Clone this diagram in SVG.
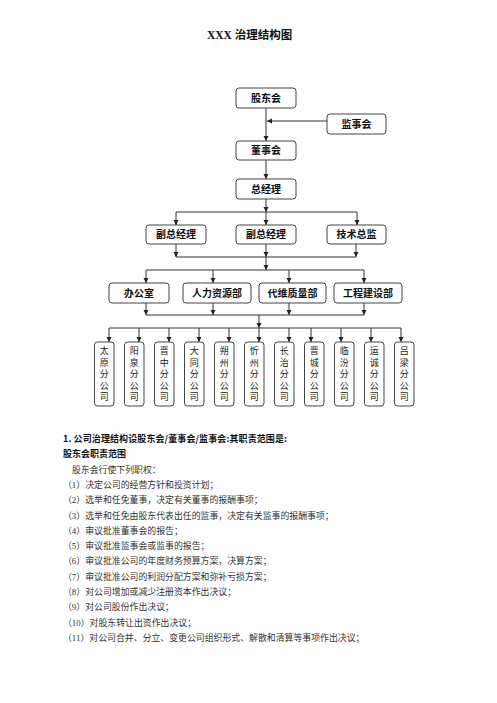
<svg xmlns="http://www.w3.org/2000/svg" width="497" height="703" viewBox="0 0 497 703">
<defs>
<marker id="ah" markerUnits="userSpaceOnUse" markerWidth="6" markerHeight="6" refX="5" refY="2.5" orient="auto">
<path d="M0,0 L5,2.5 L0,5 z" fill="#222"/>
</marker>
<style>
.box{fill:#fff;stroke:#444;stroke-width:1}
.bt{font-family:"Noto Sans CJK SC","Noto Sans",sans-serif;font-weight:bold;font-size:10px;fill:#111;text-anchor:middle}
.vt{font-family:"Noto Sans CJK SC",sans-serif;font-size:9px;fill:#222;text-anchor:middle}
.ln{fill:none;stroke:#333;stroke-width:1}
.ar{fill:none;stroke:#333;stroke-width:1;marker-end:url(#ah)}
.body{font-family:"Liberation Serif","Noto Sans CJK SC",serif;font-size:8.9px;fill:#333}
.hd{font-family:"Noto Sans CJK SC",sans-serif;font-size:9px;font-weight:bold;fill:#111}
</style>
</defs>
<rect width="497" height="703" fill="#fff"/>
<text x="207" y="39" font-family="'Liberation Serif','Noto Sans CJK SC',serif" font-weight="bold" font-size="11.5" fill="#111">XXX 治理结构图</text>

<g id="connectors">
<path class="ar" d="M266,108 V141"/>
<path class="ar" d="M327,121 H267"/>
<path class="ar" d="M266,160 V179"/>
<path class="ar" d="M266,199 V212"/>
<path class="ln" d="M176,212 H357"/>
<path class="ar" d="M176,212 V225"/>
<path class="ar" d="M266,212 V225"/>
<path class="ar" d="M357,212 V225"/>
<path class="ar" d="M176,244 V257"/>
<path class="ar" d="M266,244 V257"/>
<path class="ar" d="M356,244 V257"/>
<path class="ln" d="M176,257 H356"/>
<path class="ar" d="M266,257 V270"/>
<path class="ln" d="M146,270 H364"/>
<path class="ar" d="M146,270 V283"/>
<path class="ar" d="M213,270 V283"/>
<path class="ar" d="M289,270 V283"/>
<path class="ar" d="M364,270 V283"/>
<path class="ar" d="M146,303 V315"/>
<path class="ar" d="M213,303 V315"/>
<path class="ar" d="M289,303 V315"/>
<path class="ar" d="M364,303 V315"/>
<path class="ln" d="M146,315 H364"/>
<path class="ar" d="M259,315 V328"/>
<path class="ln" d="M109,328 H401"/>
<path class="ar" d="M109,328 V342"/>
<path class="ar" d="M139,328 V342"/>
<path class="ar" d="M169,328 V342"/>
<path class="ar" d="M199,328 V342"/>
<path class="ar" d="M229,328 V342"/>
<path class="ar" d="M259,328 V342"/>
<path class="ar" d="M289,328 V342"/>
<path class="ar" d="M311,328 V342"/>
<path class="ar" d="M341,328 V342"/>
<path class="ar" d="M371,328 V342"/>
<path class="ar" d="M401,328 V342"/>
</g>

<g id="n-gudonghui"><rect class="box" x="236" y="88" width="60" height="20" rx="3"/><text class="bt" x="266" y="101.6">股东会</text></g>
<g id="n-jianshihui"><rect class="box" x="327" y="114" width="59" height="20" rx="3"/><text class="bt" x="356.5" y="127.6">监事会</text></g>
<g id="n-dongshihui"><rect class="box" x="236" y="141" width="60" height="19" rx="3"/><text class="bt" x="266" y="154.1">董事会</text></g>
<g id="n-zongjingli"><rect class="box" x="236" y="179" width="60" height="20" rx="3"/><text class="bt" x="266" y="192.6">总经理</text></g>
<g id="n-fuzong1"><rect class="box" x="146" y="225" width="60" height="19" rx="3"/><text class="bt" x="176" y="238.1">副总经理</text></g>
<g id="n-fuzong2"><rect class="box" x="236" y="225" width="60" height="19" rx="3"/><text class="bt" x="266" y="238.1">副总经理</text></g>
<g id="n-jishu"><rect class="box" x="327" y="225" width="59" height="19" rx="3"/><text class="bt" x="356.5" y="238.1">技术总监</text></g>
<g id="n-bangongshi"><rect class="box" x="109" y="283" width="60" height="20" rx="3"/><text class="bt" x="139" y="296.6">办公室</text></g>
<g id="n-renli"><rect class="box" x="183" y="283" width="68" height="20" rx="3"/><text class="bt" x="217" y="296.6">人力资源部</text></g>
<g id="n-daiwei"><rect class="box" x="259" y="283" width="67" height="20" rx="3"/><text class="bt" x="292.5" y="296.6">代维质量部</text></g>
<g id="n-gongcheng"><rect class="box" x="334" y="283" width="68" height="20" rx="3"/><text class="bt" x="368" y="296.6">工程建设部</text></g>

<g id="n-taiyuan"><rect class="box" x="94.5" y="342" width="19.5" height="64" rx="3"/><text class="vt" x="104.3"><tspan x="104.3" y="354.4">太</tspan><tspan x="104.3" y="365.9">原</tspan><tspan x="104.3" y="377.4">分</tspan><tspan x="104.3" y="388.9">公</tspan><tspan x="104.3" y="400.4">司</tspan></text></g>
<g id="n-yangquan"><rect class="box" x="124.5" y="342" width="19.5" height="64" rx="3"/><text class="vt" x="134.3"><tspan x="134.3" y="354.4">阳</tspan><tspan x="134.3" y="365.9">泉</tspan><tspan x="134.3" y="377.4">分</tspan><tspan x="134.3" y="388.9">公</tspan><tspan x="134.3" y="400.4">司</tspan></text></g>
<g id="n-jinzhong"><rect class="box" x="154.5" y="342" width="19.5" height="64" rx="3"/><text class="vt" x="164.3"><tspan x="164.3" y="354.4">晋</tspan><tspan x="164.3" y="365.9">中</tspan><tspan x="164.3" y="377.4">分</tspan><tspan x="164.3" y="388.9">公</tspan><tspan x="164.3" y="400.4">司</tspan></text></g>
<g id="n-datong"><rect class="box" x="184.5" y="342" width="19.5" height="64" rx="3"/><text class="vt" x="194.3"><tspan x="194.3" y="354.4">大</tspan><tspan x="194.3" y="365.9">同</tspan><tspan x="194.3" y="377.4">分</tspan><tspan x="194.3" y="388.9">公</tspan><tspan x="194.3" y="400.4">司</tspan></text></g>
<g id="n-shuozhou"><rect class="box" x="214.5" y="342" width="19.5" height="64" rx="3"/><text class="vt" x="224.3"><tspan x="224.3" y="354.4">朔</tspan><tspan x="224.3" y="365.9">州</tspan><tspan x="224.3" y="377.4">分</tspan><tspan x="224.3" y="388.9">公</tspan><tspan x="224.3" y="400.4">司</tspan></text></g>
<g id="n-xinzhou"><rect class="box" x="244.5" y="342" width="19.5" height="64" rx="3"/><text class="vt" x="254.3"><tspan x="254.3" y="354.4">忻</tspan><tspan x="254.3" y="365.9">州</tspan><tspan x="254.3" y="377.4">分</tspan><tspan x="254.3" y="388.9">公</tspan><tspan x="254.3" y="400.4">司</tspan></text></g>
<g id="n-changzhi"><rect class="box" x="274.5" y="342" width="19.5" height="64" rx="3"/><text class="vt" x="284.3"><tspan x="284.3" y="354.4">长</tspan><tspan x="284.3" y="365.9">治</tspan><tspan x="284.3" y="377.4">分</tspan><tspan x="284.3" y="388.9">公</tspan><tspan x="284.3" y="400.4">司</tspan></text></g>
<g id="n-jincheng"><rect class="box" x="304.5" y="342" width="19.5" height="64" rx="3"/><text class="vt" x="314.3"><tspan x="314.3" y="354.4">晋</tspan><tspan x="314.3" y="365.9">城</tspan><tspan x="314.3" y="377.4">分</tspan><tspan x="314.3" y="388.9">公</tspan><tspan x="314.3" y="400.4">司</tspan></text></g>
<g id="n-linfen"><rect class="box" x="334.5" y="342" width="19.5" height="64" rx="3"/><text class="vt" x="344.3"><tspan x="344.3" y="354.4">临</tspan><tspan x="344.3" y="365.9">汾</tspan><tspan x="344.3" y="377.4">分</tspan><tspan x="344.3" y="388.9">公</tspan><tspan x="344.3" y="400.4">司</tspan></text></g>
<g id="n-yuncheng"><rect class="box" x="364.5" y="342" width="19.5" height="64" rx="3"/><text class="vt" x="374.3"><tspan x="374.3" y="354.4">运</tspan><tspan x="374.3" y="365.9">诚</tspan><tspan x="374.3" y="377.4">分</tspan><tspan x="374.3" y="388.9">公</tspan><tspan x="374.3" y="400.4">司</tspan></text></g>
<g id="n-lvliang"><rect class="box" x="394.5" y="342" width="19.5" height="64" rx="3"/><text class="vt" x="404.3"><tspan x="404.3" y="354.4">吕</tspan><tspan x="404.3" y="365.9">梁</tspan><tspan x="404.3" y="377.4">分</tspan><tspan x="404.3" y="388.9">公</tspan><tspan x="404.3" y="400.4">司</tspan></text></g>

<g id="text-body">
<text class="hd" x="63" y="442" textLength="224" lengthAdjust="spacing">1. 公司治理结构设股东会/董事会/监事会:其职责范围是:</text>
<text class="hd" x="63" y="457.3">股东会职责范围</text>
<text class="body" x="72" y="472.6">股东会行使下列职权：</text>
<text class="body" x="63" y="487.9">（1）决定公司的经营方针和投资计划；</text>
<text class="body" x="63" y="503.2">（2）选举和任免董事，决定有关董事的报酬事项；</text>
<text class="body" x="63" y="518.5">（3）选举和任免由股东代表出任的监事，决定有关监事的报酬事项；</text>
<text class="body" x="63" y="533.8">（4）审议批准董事会的报告；</text>
<text class="body" x="63" y="549.1">（5）审议批准监事会或监事的报告；</text>
<text class="body" x="63" y="564.4">（6）审议批准公司的年度财务预算方案，决算方案；</text>
<text class="body" x="63" y="579.7">（7）审议批准公司的利润分配方案和弥补亏损方案；</text>
<text class="body" x="63" y="595">（8）对公司增加或减少注册资本作出决议；</text>
<text class="body" x="63" y="610.3">（9）对公司股份作出决议；</text>
<text class="body" x="63" y="625.6">（10）对股东转让出资作出决议；</text>
<text class="body" x="63" y="640.9">（11）对公司合并、分立、变更公司组织形式、解散和清算等事项作出决议；</text>
</g>
</svg>
